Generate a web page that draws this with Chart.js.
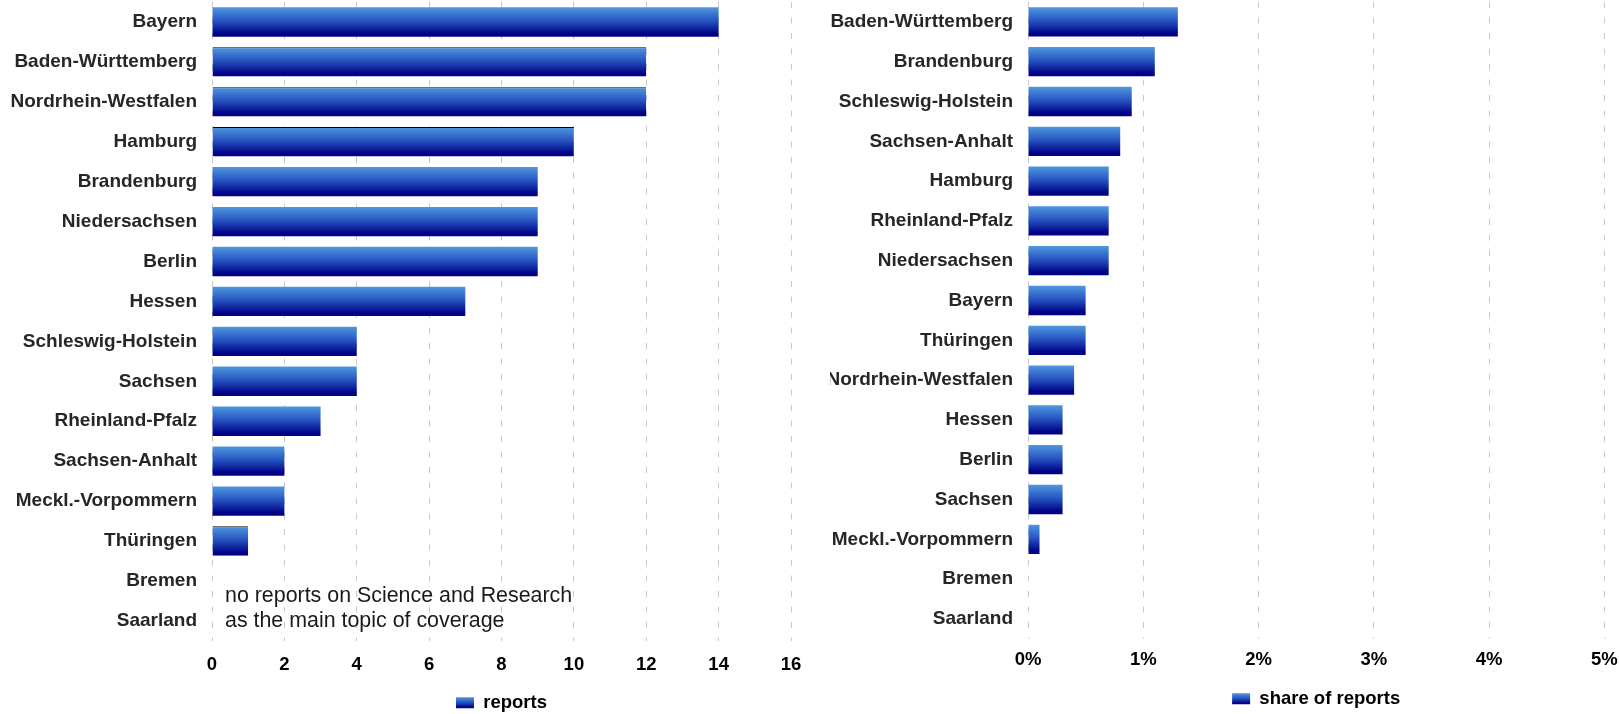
<!DOCTYPE html>
<html><head><meta charset="utf-8">
<script src="https://cdn.jsdelivr.net/npm/chart.js@4.4.1/dist/chart.umd.min.js"></script>
<style>
html,body{margin:0;padding:0;background:#fff;overflow:hidden;width:1619px;height:714px;}
#c1{position:absolute;left:0;top:0;}
#c2{position:absolute;left:830px;top:0;}
#note{position:absolute;left:225px;top:583px;font:21.4px "Liberation Sans",Arial,sans-serif;line-height:25px;color:#1a1a1a;white-space:nowrap;}
</style></head><body>
<canvas id="c1" width="820" height="722"></canvas>
<canvas id="c2" width="789" height="718"></canvas>
<div id="note">no reports on Science and Research<br>as the main topic of coverage</div>
<script>
// ---- data ----
const reportStates = ['Bayern','Baden-Württemberg','Nordrhein-Westfalen','Hamburg','Brandenburg','Niedersachsen','Berlin','Hessen','Schleswig-Holstein','Sachsen','Rheinland-Pfalz','Sachsen-Anhalt','Meckl.-Vorpommern','Thüringen','Bremen','Saarland'];
const reportCounts = [14,12,12,10,9,9,9,7,4,4,3,2,2,1,0,0];
const reportTickLabels = ['0','2','4','6','8','10','12','14','16'];

const shareStates = ['Baden-Württemberg','Brandenburg','Schleswig-Holstein','Sachsen-Anhalt','Hamburg','Rheinland-Pfalz','Niedersachsen','Bayern','Thüringen','Nordrhein-Westfalen','Hessen','Berlin','Sachsen','Meckl.-Vorpommern','Bremen','Saarland'];
const sharePercent = [1.3,1.1,0.9,0.8,0.7,0.7,0.7,0.5,0.5,0.4,0.3,0.3,0.3,0.1,0,0];
const shareTickLabels = ['0%','1%','2%','3%','4%','5%'];

const legendLeft = 'reports';
const legendRight = 'share of reports';

// ---- styling ----
const FONT = '"Liberation Sans", Arial, sans-serif';
Chart.defaults.font.family = FONT;
const BAR_PCT = 0.735;
const LEG_PAD_L = 17.5, LEG_PAD_R = 18.5, FS = 18.5, LFS = 19;

function fillGrad(g){
  g.addColorStop(0,'#5097de');
  g.addColorStop(0.45,'#2756c2');
  g.addColorStop(0.88,'#02058a');
  g.addColorStop(1,'#000080');
  return g;
}
function barGradient(ctx){
  const chart = ctx.chart;
  const c = chart.ctx;
  if (ctx.type === 'data') {
    const ys = chart.scales.y;
    if (!ys || !isFinite(ys.height)) return '#1f3fae';
    const n = chart.data.labels.length;
    const mid = ys.getPixelForValue(ctx.dataIndex);
    const h = ys.height / n * BAR_PCT;
    if (!isFinite(mid)) return '#1f3fae';
    return fillGrad(c.createLinearGradient(0, mid - h/2, 0, mid + h/2));
  }
  return '#1f3fae';
}
function legendGradient(chart){
  const lg = chart.legend;
  if (!lg || !isFinite(lg.top)) return '#1f3fae';
  const pad = lg.options.labels.padding;
  const top = lg.top + pad + (FS - 11)/2;
  return fillGrad(chart.ctx.createLinearGradient(0, top, 0, top + 11));
}

const gridX = {color:'#c8c8c8', lineWidth:1, drawTicks:false};
const borderX = {display:false, dash:[6,9.5]};

function makeChart(id, labels, values, tickLabels, xmax, step, legendText, yWidth, padRight, tickPad, legPad, topEdges){
  return new Chart(document.getElementById(id), {
    type:'bar',
    data:{labels:labels, datasets:[{
      label:legendText,
      data:values,
      backgroundColor:barGradient,
      borderColor:'#000',
      borderWidth:(ctx)=> (ctx.type==='data' && topEdges.includes(ctx.dataIndex)) ? {top:1,left:0,right:0,bottom:0} : 0,
      borderSkipped:false,
      barPercentage:BAR_PCT,
      categoryPercentage:1
    }]},
    options:{
      indexAxis:'y',
      responsive:false,
      animation:false,
      devicePixelRatio:1,
      layout:{padding:{top:2,left:0,right:padRight,bottom:0}},
      plugins:{
        tooltip:{enabled:false},
        legend:{
          display:true, position:'bottom', fullSize:false,
          labels:{boxWidth:18, boxHeight:11, padding:legPad, color:'#000',
            font:{size:FS, weight:'bold', family:FONT},
            generateLabels:(chart)=>{
              const items = Chart.defaults.plugins.legend.labels.generateLabels(chart);
              items.forEach(it=>{ it.fillStyle = legendGradient(chart); it.lineWidth = 0; it.strokeStyle = 'rgba(0,0,0,0)'; });
              return items;
            }}
        }
      },
      scales:{
        y:{
          grid:{display:false, drawTicks:false},
          border:{display:false},
          ticks:{padding:15, color:'#262626', font:{size:LFS, weight:'bold'}, autoSkip:false},
          afterFit:(s)=>{ s.width = yWidth; s.paddingTop = 0; s.paddingBottom = 0; }
        },
        x:{
          min:0, max:xmax,
          grid:gridX,
          border:borderX,
          ticks:{stepSize:step, padding:tickPad, color:'#000', font:{size:FS, weight:'bold'},
            callback:(v,i)=> tickLabels[i]},
          afterFit:(s)=>{ s.paddingLeft = 0; s.paddingRight = 0; s.height = tickPad + FS*1.2; }
        }
      }
    }
  });
}

makeChart('c1', reportStates, reportCounts, reportTickLabels, 16, 2, legendLeft, 212, 29, 13, LEG_PAD_L, [1,2,3,13]);
makeChart('c2', shareStates, sharePercent, shareTickLabels, 5, 1, legendRight, 198, 14.7, 10, LEG_PAD_R, []);
</script>
</body></html>
